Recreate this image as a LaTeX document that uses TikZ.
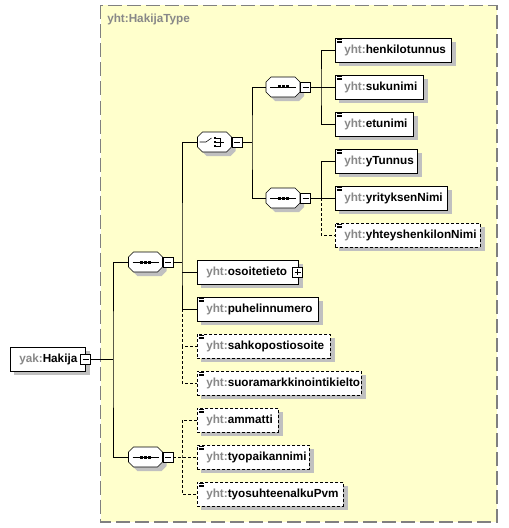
\documentclass[tikz,border=0pt]{standalone}
\usepackage{fontspec}
\setmainfont{Liberation Sans}
\definecolor{typefill}{RGB}{255,255,204}
\definecolor{prefixgray}{RGB}{136,136,136}
\definecolor{shadowgray}{RGB}{192,192,192}
\definecolor{framegray}{RGB}{128,128,128}
\pgfdeclarelayer{back}
\pgfdeclarelayer{shade}
\pgfsetlayers{back,shade,main}
\newcommand\qn[2]{\mbox{\textcolor{prefixgray}{#1:}#2}}
\newcommand\octpath{++(-17,-5) -- ++(5,-5) -- ++(24,0) -- ++(5,5) -- ++(0,10) -- ++(-5,5) -- ++(-24,0) -- ++(-5,-5) -- cycle}
\tikzstyle{elem} = [draw, fill=white, anchor=west, minimum height=18pt, inner xsep=6.75pt, inner ysep=0pt, align=left, font=\bfseries\fontsize{8.8}{10}\selectfont]
\tikzstyle{leaf} = [elem, path picture={\foreach \r in {1.2,2.2,3.2} \draw[solid, line width=0.5pt] ([xshift=1.3pt, yshift=-\r pt]path picture bounding box.north west) -- ++(4pt,0);}]
\tikzstyle{optleaf} = [leaf, dash pattern=on 2.25pt off 1.5pt]
\tikzstyle{compositor} = [minimum width=25.5pt, minimum height=15pt, inner sep=0pt]
\tikzstyle{toggle} = [draw, fill=white, anchor=west, minimum size=7.5pt, inner sep=0pt, path picture={\draw ([xshift=1.5pt]path picture bounding box.west) -- ([xshift=-1.5pt]path picture bounding box.east);}]
\tikzstyle{expand} = [draw, fill=white, minimum size=7.5pt, inner sep=0pt, path picture={\draw ([xshift=1.5pt]path picture bounding box.west) -- ([xshift=-1.5pt]path picture bounding box.east); \draw ([yshift=-1.5pt]path picture bounding box.north) -- ([yshift=1.5pt]path picture bounding box.south);}]
\tikzstyle{optline} = [dash pattern=on 2.25pt off 1.5pt]
\newcommand\seqmark[1]{%
  \draw[fill=white] (#1.center) \octpath;
  \draw (#1.center) ++(-13,0) -- ++(26,0);
  \foreach \d in {-4,0,4} \fill (#1.center) ++(\d-1.5,-1.5) rectangle ++(3,3);}
\newcommand\choicemark[1]{%
  \draw[fill=white] (#1.center) \octpath;
  \draw (#1.center) ++(-15,0) -- ++(6.5,0) -- ++(5.5,-4);
  \foreach \d in {-4,0,4} \fill (#1.center) ++(-1,\d-1.2) rectangle ++(2.4,2.4);
  \draw (#1.center) ++(1.5,-4) -- ++(4,0) -- ++(0,8) -- ++(-4,0);
  \draw (#1.center) ++(1.5,0) -- ++(7.5,0);}

\begin{document}
\begin{tikzpicture}[x=0.75pt,y=-0.75pt,line width=0.75pt]
    \useasboundingbox (0,0) rectangle (508,528);
    \begin{pgfonlayer}{back}
    \draw[framegray, fill=typefill, line width=1pt, dash pattern=on 10.5pt off 3.75pt] (100.5,5.5) rectangle (497,522);
    \end{pgfonlayer}
    \node[anchor=west, text=prefixgray, font=\bfseries\fontsize{8.8}{10}\selectfont, inner sep=0pt] (typename) at (107,19) {yht:HakijaType};

    \node[elem, text width=42.75pt] (hakija) at (10,359) {\qn{yak}{Hakija}};
    \node[toggle, anchor=center] (hakijam) at (hakija.east) {};

    \node[compositor] (seqC) at (145.5,262) {};
    \seqmark{seqC}
    \node[toggle] (seqCm) at (seqC.east) {};
    \node[compositor] (seqD) at (145.5,457) {};
    \seqmark{seqD}
    \node[toggle] (seqDm) at (seqD.east) {};

    \node[compositor] (choice) at (214.5,142) {};
    \choicemark{choice}
    \node[toggle] (choicem) at (choice.east) {};
    \node[elem, text width=62.25pt] (osoite) at (197,272) {\qn{yht}{osoitetieto}};
    \node[expand] (osoitep) at ([xshift=-0.75pt]osoite.east) {};
    \node[leaf, text width=77.25pt] (puhelin) at (197,309) {\qn{yht}{puhelinnumero}};
    \node[optleaf, text width=86.25pt] (sahko) at (197,346) {\qn{yht}{sahkopostiosoite}};
    \node[optleaf, text width=109.5pt] (suora) at (197,383) {\qn{yht}{suoramarkkinointikielto}};
    \node[optleaf, text width=47.25pt] (ammatti) at (197,420) {\qn{yht}{ammatti}};
    \node[optleaf, text width=70.5pt] (tyopaikka) at (197,457) {\qn{yht}{tyopaikannimi}};
    \node[optleaf, text width=96pt] (tyosuhde) at (197,494) {\qn{yht}{tyosuhteenalkuPvm}};

    \node[compositor] (seqA) at (283,87) {};
    \seqmark{seqA}
    \node[toggle] (seqAm) at (seqA.east) {};
    \node[compositor] (seqB) at (283,198) {};
    \seqmark{seqB}
    \node[toggle] (seqBm) at (seqB.east) {};

    \node[leaf, text width=73.5pt] (henkilo) at (335,50) {\qn{yht}{henkilotunnus}};
    \node[leaf, text width=52.5pt] (suku) at (335,87) {\qn{yht}{sukunimi}};
    \node[leaf, text width=45pt] (etu) at (335,124) {\qn{yht}{etunimi}};
    \node[leaf, text width=48pt] (ytunnus) at (335,161) {\qn{yht}{yTunnus}};
    \node[leaf, text width=70.5pt] (yritys) at (335,198) {\qn{yht}{yrityksenNimi}};
    \node[optleaf, text width=95.25pt] (yhteys) at (335,235) {\qn{yht}{yhteyshenkilonNimi}};

    \begin{pgfonlayer}{shade}
    \foreach \n in {hakija,osoite,puhelin,sahko,suora,ammatti,tyopaikka,tyosuhde,henkilo,suku,etu,ytunnus,yritys,yhteys}
        \fill[shadowgray] ([shift={(4,4)}]\n.south west) rectangle ([shift={(4,4)}]\n.north east);
    \foreach \n in {seqA,seqB,seqC,seqD,choice}
        \fill[shadowgray] (\n.center) ++(4,4) \octpath;
    \end{pgfonlayer}

    \coordinate (jA) at (113,359);
    \coordinate (jB) at (252,142);
    \coordinate (jC) at (182,262);
    \coordinate (jD) at (182,457);
    \coordinate (jE) at (321,87);
    \coordinate (jF) at (321,198);

    \draw (hakijam.east) -- (jA);
    \draw (seqC.west) -| (jA) |- (seqD.west);

    \draw (seqCm.east) -- (jC);
    \draw (choice.west) -| (jC) |- (puhelin.west);
    \draw (osoite.west) -- (osoite.west -| jC);
    \draw[optline] (puhelin.west -| jC) |- (sahko.west);
    \draw[optline] (sahko.west -| jC) |- (suora.west);

    \draw[optline] (seqDm.east) -- (tyopaikka.west);
    \draw[optline] (ammatti.west) -| (jD) |- (tyosuhde.west);

    \draw (choicem.east) -- (jB);
    \draw (seqA.west) -| (jB) |- (seqB.west);

    \draw (seqAm.east) -- (suku.west);
    \draw (henkilo.west) -| (jE) |- (etu.west);

    \draw (seqBm.east) -- (yritys.west);
    \draw (ytunnus.west) -| (jF);
    \draw[optline] (jF) |- (yhteys.west);
\end{tikzpicture}
\end{document}
